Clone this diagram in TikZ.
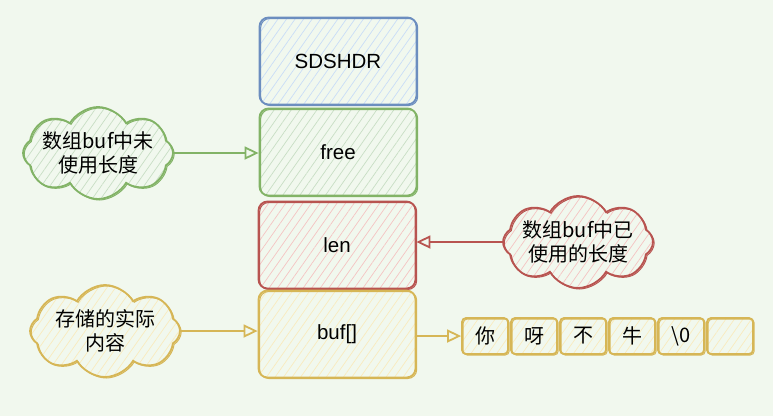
\documentclass[tikz,border=0pt]{standalone}
\usepackage{fontspec}
\setmainfont{Liberation Sans}
\newfontfamily\cjk{Noto Sans CJK SC}
\usetikzlibrary{shapes.symbols}
\usetikzlibrary{patterns.meta}
\usetikzlibrary{arrows.meta}
\definecolor{bg-green}{HTML}{F1F8EE}
\definecolor{blue-line}{HTML}{6C8EBF}
\definecolor{blue-fill}{HTML}{C9DDF7}
\definecolor{green-line}{HTML}{82B366}
\definecolor{green-fill}{HTML}{C8DEC4}
\definecolor{red-line}{HTML}{B85450}
\definecolor{red-fill}{HTML}{F5C4C2}
\definecolor{yellow-line}{HTML}{D6B656}
\definecolor{yellow-fill}{HTML}{F9EBBE}
\tikzstyle{hatch}=[pattern={Lines[angle=55,distance=7pt,line width=0.7pt]}]
\tikzstyle{sketchline}=[line width=1.8pt,postaction={draw,line width=1pt,transform canvas={shift={(1.2pt,-1pt)}}}]
\tikzstyle{fieldbox}=[sketchline,hatch,rounded corners=9pt,minimum width=157pt,minimum height=87pt,font=\fontsize{20.5}{24}\selectfont]
\tikzstyle{note}=[sketchline,hatch,cloud,cloud puffs=8,cloud puff arc=120,aspect=1.65,minimum width=150pt,minimum height=92pt,inner sep=-14pt,align=center,font=\cjk\fontsize{20}{24}\selectfont]
\tikzstyle{cellbox}=[sketchline,hatch,rounded corners=4pt,minimum width=46pt,minimum height=36pt,font=\cjk\fontsize{20}{24}\selectfont]
\tikzstyle{pointer}=[line width=1.8pt,-{Triangle[open,length=14pt,width=13pt]}]

\begin{document}
\begin{tikzpicture}[x=1pt,y=-1pt]
\fill[bg-green] (0,0) rectangle (773,416);
\useasboundingbox (0,0) rectangle (773,416);
% the header fields
\node[fieldbox,draw=blue-line,pattern color=blue-fill] (sdshdr) at (338,61) {SDSHDR};
\node[fieldbox,draw=green-line,pattern color=green-fill] (free) at (338,152) {free};
\node[fieldbox,draw=red-line,pattern color=red-fill] (len) at (337,245) {len};
\node[fieldbox,draw=yellow-line,pattern color=yellow-fill] (buf) at (337,334) {buf[]};
% notes
\node[note,draw=green-line,pattern color=green-fill] (note-free) at (98,153) {数组buf中未\\使用长度};
\node[note,draw=red-line,pattern color=red-fill] (note-len) at (578,242) {数组buf中已\\使用的长度};
\node[note,draw=yellow-line,pattern color=yellow-fill] (note-buf) at (105,331) {存储的实际\\内容};
% contents of buf
\foreach \ch [count=\i] in {你,呀,不,牛,{\textbackslash 0},{}} {
	\node[cellbox,draw=yellow-line,pattern color=yellow-fill] (c\i) at ({485+49*(\i-1)},336) {\ch};
}
% arrows
\draw[pointer,green-line] (note-free.east) -- (note-free.east -| free.west);
\draw[pointer,red-line] (note-len.west) -- (note-len.west -| len.east);
\draw[pointer,yellow-line] (note-buf.east) -- (note-buf.east -| buf.west);
\draw[pointer,yellow-line] (buf.east |- c1.west) -- (c1.west);
\end{tikzpicture}
\end{document}
